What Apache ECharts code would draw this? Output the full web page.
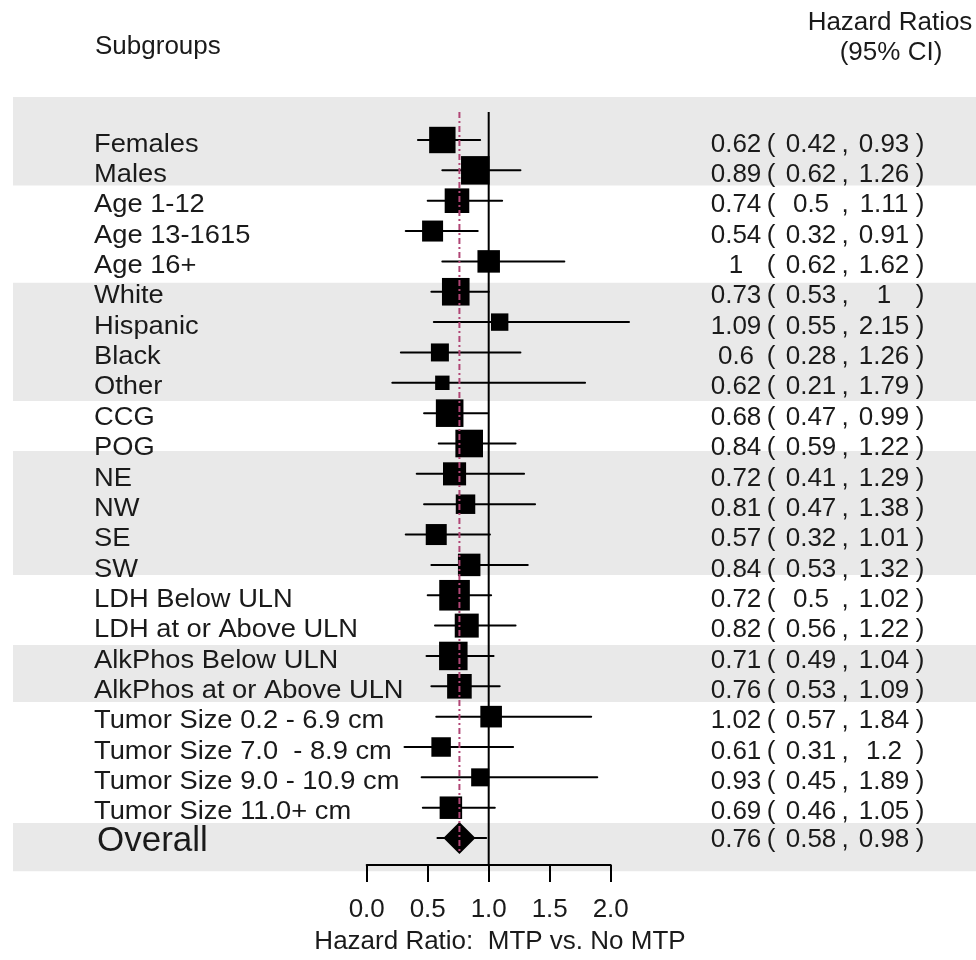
<!DOCTYPE html>
<html><head><meta charset="utf-8">
<script src="https://cdn.jsdelivr.net/npm/echarts@6/dist/echarts.min.js"></script>
<style>html,body{margin:0;padding:0;background:#fff}#c{width:976px;height:960px}</style>
</head><body><div id="c"></div>
<script>
// ---------- data ----------
const subgroups = ['Females','Males','Age 1-12','Age 13-1615','Age 16+','White','Hispanic','Black','Other',
  'CCG','POG','NE','NW','SE','SW','LDH Below ULN','LDH at or Above ULN','AlkPhos Below ULN',
  'AlkPhos at or Above ULN','Tumor Size 0.2 - 6.9 cm','Tumor Size 7.0  - 8.9 cm','Tumor Size 9.0 - 10.9 cm',
  'Tumor Size 11.0+ cm','Overall'];
const hr    = [0.62,0.89,0.74,0.54,1,0.73,1.09,0.6,0.62,0.68,0.84,0.72,0.81,0.57,0.84,0.72,0.82,0.71,0.76,1.02,0.61,0.93,0.69,0.76];
const lower = [0.42,0.62,0.5,0.32,0.62,0.53,0.55,0.28,0.21,0.47,0.59,0.41,0.47,0.32,0.53,0.5,0.56,0.49,0.53,0.57,0.31,0.45,0.46,0.58];
const upper = [0.93,1.26,1.11,0.91,1.62,1,2.15,1.26,1.79,0.99,1.22,1.29,1.38,1.01,1.32,1.02,1.22,1.04,1.09,1.84,1.2,1.89,1.05,0.98];
// relative box weights
const weights = [0.88,0.95,0.82,0.70,0.75,0.92,0.58,0.60,0.48,0.92,0.92,0.77,0.65,0.70,0.75,1.02,0.80,0.95,0.82,0.72,0.65,0.60,0.75,1.07];
const xTickLabels = ['0.0','0.5','1.0','1.5','2.0'];
// shaded row bands, in row units [from, to]
const bandRanges = [[-1.42,1.5],[4.7,8.6],[10.25,14.33],[16.64,18.52],[22.5,24.09]];

// ---------- layout ----------
const FONT = '"Liberation Sans", Arial, sans-serif';
const PX_PER_UNIT = 122, X0 = 366.7;
const xMin = -X0 / PX_PER_UNIT, xMax = (976 - X0) / PX_PER_UNIT;
const ROW0 = 140, ROWH = 30.35;
const yMin = (97 - ROW0) / ROWH, yMax = (871 - ROW0) / ROWH;
const BOX = 30;
const TEXT_DY = 4.5;
const nRows = subgroups.length;
const overallIdx = nRows - 1;

const rows = subgroups.map((s, i) => [hr[i], i, lower[i], upper[i], weights[i]]);

const chart = echarts.init(document.getElementById('c'), null, {renderer: 'canvas'});
const txt = (text, x, y, size, align, sx) => ({
  type: 'text', x: x, y: y, scaleX: sx || 1,
  style: {text: text, font: size + 'px ' + FONT, fill: '#1a1a1a', align: align || 'left', verticalAlign: 'middle'}
});

const option = {
  animation: false,
  backgroundColor: '#fff',
  grid: [
    {left: 0, right: 0, top: 97, height: 774},
    {left: X0, width: 2 * PX_PER_UNIT, top: 800, height: 65}
  ],
  xAxis: [
    {gridIndex: 0, type: 'value', min: xMin, max: xMax, show: false},
    {gridIndex: 1, type: 'value', min: 0, max: 2, interval: 0.5, position: 'bottom', z: 20,
     axisLine: {show: true, lineStyle: {color: '#000', width: 2}},
     axisTick: {show: true, length: 17, lineStyle: {color: '#000', width: 2}},
     splitLine: {show: false},
     axisLabel: {show: true, margin: 32, fontSize: 26, fontFamily: FONT, color: '#1a1a1a',
       formatter: (v) => xTickLabels[Math.round(v / 0.5)]}}
  ],
  yAxis: [
    {gridIndex: 0, type: 'value', min: yMin, max: yMax, inverse: true, show: false},
    {gridIndex: 1, type: 'value', min: 0, max: 1, show: false}
  ],
  graphic: [
    txt('Subgroups', 95, 47, 26),
    txt('Hazard Ratios', 890, 23, 26, 'center'),
    txt('(95% CI)', 891, 53, 26, 'center'),
    txt('Hazard Ratio:  MTP vs. No MTP', 500, 942, 26, 'center')
  ],
  series: [
    { // bands
      type: 'custom', xAxisIndex: 0, yAxisIndex: 0, silent: true, clip: false, z: 1,
      data: bandRanges,
      renderItem: (p, api) => {
        const a = api.coord([(13 - X0) / PX_PER_UNIT, api.value(0)]);
        const b = api.coord([xMax, api.value(1)]);
        return {type: 'rect', shape: {x: a[0], y: a[1], width: b[0] - a[0], height: b[1] - a[1]}, style: {fill: '#e9e9e9'}};
      }
    },
    { // vertical line at 1
      type: 'custom', xAxisIndex: 0, yAxisIndex: 0, silent: true, clip: false, z: 2,
      data: [[1, -0.92, 23.89]],
      renderItem: (p, api) => {
        const a = api.coord([api.value(0), api.value(1)]);
        const b = api.coord([api.value(0), api.value(2)]);
        return {type: 'line', shape: {x1: a[0], y1: a[1], x2: b[0], y2: b[1]}, style: {stroke: '#000', lineWidth: 2}};
      }
    },
    { // CIs and boxes
      type: 'custom', xAxisIndex: 0, yAxisIndex: 0, silent: true, clip: false, z: 3,
      data: rows,
      renderItem: (p, api) => {
        const i = api.value(1);
        const a = api.coord([api.value(2), i]);
        const b = api.coord([api.value(3), i]);
        const c = api.coord([api.value(0), i]);
        const s = api.value(4) * BOX;
        const children = [{type: 'line', shape: {x1: a[0], y1: a[1], x2: b[0], y2: b[1]},
          style: {stroke: '#000', lineWidth: 2, lineCap: 'round'}}];
        if (p.dataIndex === overallIdx) {
          const h = s / 2;
          children.push({type: 'polygon', shape: {points: [[c[0] - h, c[1]], [c[0], c[1] - h], [c[0] + h, c[1]], [c[0], c[1] + h]]},
            style: {fill: '#000'}});
        } else {
          children.push({type: 'rect', shape: {x: c[0] - s / 2, y: c[1] - s / 2, width: s, height: s}, style: {fill: '#000'}});
        }
        return {type: 'group', children: children};
      }
    },
    { // dashed line at overall HR
      type: 'custom', xAxisIndex: 0, yAxisIndex: 0, silent: true, clip: false, z: 4,
      data: [[hr[overallIdx], -0.92, 23.5]],
      renderItem: (p, api) => {
        const a = api.coord([api.value(0), api.value(1)]);
        const b = api.coord([api.value(0), api.value(2)]);
        return {type: 'line', shape: {x1: a[0], y1: a[1], x2: b[0], y2: b[1]},
          style: {stroke: '#b04575', lineWidth: 2, lineDash: [6, 3, 2, 3]}};
      }
    },
    { // row labels and HR text
      type: 'custom', xAxisIndex: 0, yAxisIndex: 0, silent: true, clip: false, z: 5,
      data: rows,
      renderItem: (p, api) => {
        const i = p.dataIndex;
        const y = api.coord([0, i])[1];
        const isO = i === overallIdx;
        const yt = y + (isO ? 3 : TEXT_DY);
        const yh = y + TEXT_DY - (isO ? 3 : 0);
        return {type: 'group', children: [
          txt(subgroups[i], isO ? 97 : 94, yt, isO ? 35 : 26, 'left', isO ? 1 : 1.05),
          txt(String(hr[i]), 736, yh, 26, 'center'),
          txt('(', 771, yh, 26, 'center'),
          txt(String(lower[i]), 811, yh, 26, 'center'),
          txt(',', 845, yh, 26, 'center'),
          txt(String(upper[i]), 884, yh, 26, 'center'),
          txt(')', 920, yh, 26, 'center')
        ]};
      }
    }
  ]
};
chart.setOption(option);
</script>
</body></html>
